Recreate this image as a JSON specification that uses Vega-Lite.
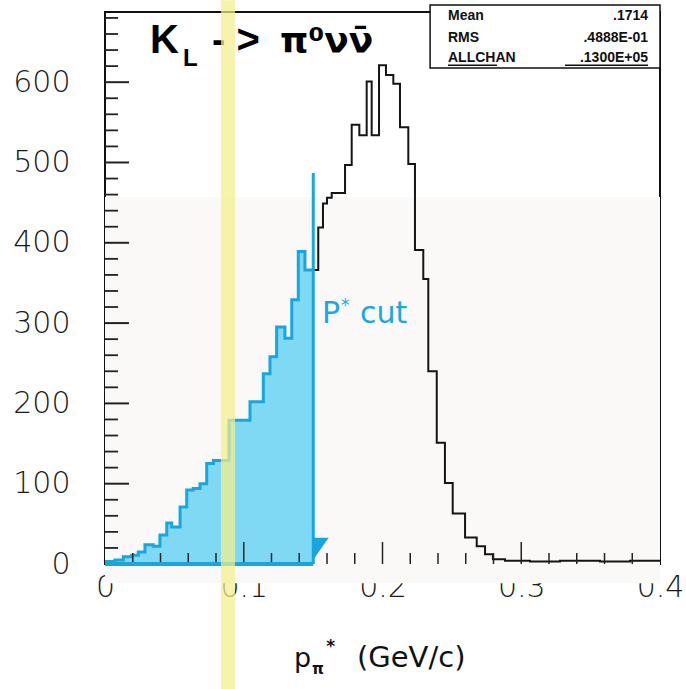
{
  "$schema": "https://vega.github.io/schema/vega-lite/v6.json",
  "width": 555,
  "height": 552,
  "autosize": {"type": "none"},
  "padding": {"left": 105, "top": 12, "right": 26, "bottom": 125},
  "background": "white",
  "config": {
    "view": {"stroke": "#111111", "strokeWidth": 2},
    "axis": {"grid": false, "ticks": false, "domain": false, "tickSize": 0}
  },
  "datasets": {
    "hist": [
      {"x": 0, "n": 3}, {"x": 0.0072, "n": 5}, {"x": 0.0132, "n": 9}, {"x": 0.0192, "n": 11},
      {"x": 0.024, "n": 15}, {"x": 0.0288, "n": 24}, {"x": 0.0348, "n": 22}, {"x": 0.0396, "n": 36},
      {"x": 0.0445, "n": 51}, {"x": 0.0481, "n": 46}, {"x": 0.0541, "n": 71}, {"x": 0.0589, "n": 92},
      {"x": 0.0636, "n": 94}, {"x": 0.0685, "n": 100}, {"x": 0.0733, "n": 125}, {"x": 0.0781, "n": 129},
      {"x": 0.0894, "n": 179}, {"x": 0.1045, "n": 202}, {"x": 0.1141, "n": 237}, {"x": 0.1189, "n": 258},
      {"x": 0.1237, "n": 295}, {"x": 0.1297, "n": 281}, {"x": 0.1346, "n": 329}, {"x": 0.1393, "n": 389},
      {"x": 0.1441, "n": 366}, {"x": 0.1501, "n": 366}, {"x": 0.1537, "n": 419}, {"x": 0.1571, "n": 449},
      {"x": 0.16, "n": 456}, {"x": 0.1634, "n": 462}, {"x": 0.173, "n": 497}, {"x": 0.1778, "n": 547},
      {"x": 0.1833, "n": 534}, {"x": 0.1886, "n": 601}, {"x": 0.1922, "n": 534}, {"x": 0.1975, "n": 621},
      {"x": 0.2025, "n": 609}, {"x": 0.2078, "n": 598}, {"x": 0.2126, "n": 544}, {"x": 0.2186, "n": 498},
      {"x": 0.2234, "n": 391}, {"x": 0.2294, "n": 355}, {"x": 0.233, "n": 240}, {"x": 0.2391, "n": 151},
      {"x": 0.245, "n": 101}, {"x": 0.2506, "n": 63}, {"x": 0.2595, "n": 33}, {"x": 0.2679, "n": 22},
      {"x": 0.2739, "n": 12}, {"x": 0.2796, "n": 6}, {"x": 0.2883, "n": 4}, {"x": 0.3063, "n": 3},
      {"x": 0.3279, "n": 4}, {"x": 0.3568, "n": 3}, {"x": 0.3784, "n": 4}, {"x": 0.4, "n": 4}
    ],
    "one": [{}]
  },
  "layer": [
    {
      "data": {"name": "one"},
      "mark": {"type": "rect", "fill": "#faf9f8"},
      "encoding": {
        "x": {"datum": 0, "type": "quantitative",
          "scale": {"domain": [0, 0.4], "nice": false, "zero": false},
          "axis": {"values": [0, 0.1, 0.2, 0.3, 0.4], "format": "~g", "title": null,
            "labelFont": "DejaVu Sans", "labelFontWeight": 300, "labelFontSize": 30, "labelColor": "#1a1a1a",
            "labelPadding": 8, "labelOverlap": false, "labelFlush": false}},
        "x2": {"datum": 0.4},
        "y": {"datum": -24, "type": "quantitative",
          "scale": {"domain": [0, 687.4], "nice": false, "zero": false},
          "axis": {"values": [0, 100, 200, 300, 400, 500, 600], "format": "d", "title": null,
            "labelFont": "DejaVu Sans", "labelFontWeight": 300, "labelFontSize": 30, "labelColor": "#1a1a1a",
            "labelPadding": 35, "labelOverlap": false, "labelFlush": false}},
        "y2": {"datum": 457}
      }
    },
    {
      "data": {"name": "hist"},
      "transform": [{"filter": "datum.x <= 0.1502"}],
      "mark": {"type": "area", "interpolate": "step-after", "fill": "#80d9f4"},
      "encoding": {
        "x": {"field": "x", "type": "quantitative"},
        "y": {"field": "n", "type": "quantitative"}
      }
    },
    {
      "data": {"name": "hist"},
      "transform": [{"filter": "datum.x <= 0.1502"}],
      "mark": {"type": "line", "interpolate": "step-after", "stroke": "#17a6de", "strokeWidth": 3},
      "encoding": {
        "x": {"field": "x", "type": "quantitative"},
        "y": {"field": "n", "type": "quantitative"}
      }
    },
    {
      "data": {"name": "hist"},
      "transform": [{"filter": "datum.x >= 0.15"}],
      "mark": {"type": "line", "interpolate": "step-after", "stroke": "#151515", "strokeWidth": 2},
      "encoding": {
        "x": {"field": "x", "type": "quantitative"},
        "y": {"field": "n", "type": "quantitative"}
      }
    },
    {
      "data": {"values": [{"v": 0}, {"v": 100}, {"v": 200}, {"v": 300}, {"v": 400}, {"v": 500}, {"v": 600}]},
      "mark": {"type": "rule", "stroke": "#222222", "strokeWidth": 2},
      "encoding": {
        "y": {"field": "v", "type": "quantitative"},
        "x": {"datum": 0, "type": "quantitative"},
        "x2": {"datum": 0.0173}
      }
    },
    {
      "data": {"values": [{"v": 20}, {"v": 40}, {"v": 60}, {"v": 80}, {"v": 120}, {"v": 140}, {"v": 160}, {"v": 180}, {"v": 220}, {"v": 240}, {"v": 260}, {"v": 280}, {"v": 320}, {"v": 340}, {"v": 360}, {"v": 380}, {"v": 420}, {"v": 440}, {"v": 460}, {"v": 480}, {"v": 520}, {"v": 540}, {"v": 560}, {"v": 580}, {"v": 620}, {"v": 640}, {"v": 660}, {"v": 680}]},
      "mark": {"type": "rule", "stroke": "#222222", "strokeWidth": 1.8},
      "encoding": {
        "y": {"field": "v", "type": "quantitative"},
        "x": {"datum": 0, "type": "quantitative"},
        "x2": {"datum": 0.0094}
      }
    },
    {
      "data": {"values": [{"v": 0.1}, {"v": 0.2}, {"v": 0.3}]},
      "mark": {"type": "rule", "stroke": "#222222", "strokeWidth": 1.5},
      "encoding": {
        "x": {"field": "v", "type": "quantitative"},
        "y": {"datum": 0, "type": "quantitative"},
        "y2": {"datum": 27.4}
      }
    },
    {
      "data": {"values": [{"v": 0.02}, {"v": 0.04}, {"v": 0.06}, {"v": 0.08}, {"v": 0.12}, {"v": 0.14}, {"v": 0.16}, {"v": 0.18}, {"v": 0.22}, {"v": 0.24}, {"v": 0.26}, {"v": 0.28}, {"v": 0.32}, {"v": 0.34}, {"v": 0.36}, {"v": 0.38}]},
      "mark": {"type": "rule", "stroke": "#222222", "strokeWidth": 1.5},
      "encoding": {
        "x": {"field": "v", "type": "quantitative"},
        "y": {"datum": 0, "type": "quantitative"},
        "y2": {"datum": 13.7}
      }
    },
    {
      "data": {"name": "one"},
      "mark": {"type": "rule", "stroke": "#17a6de", "strokeWidth": 4},
      "encoding": {
        "x": {"datum": 0, "type": "quantitative"},
        "x2": {"datum": 0.1501},
        "y": {"datum": 0, "type": "quantitative"}
      }
    },
    {
      "data": {"name": "one"},
      "mark": {"type": "rule", "stroke": "#17a6de", "strokeWidth": 3},
      "encoding": {
        "x": {"datum": 0.1501, "type": "quantitative"},
        "y": {"datum": 0, "type": "quantitative"},
        "y2": {"datum": 487}
      }
    },
    {
      "data": {"name": "one"},
      "mark": {"type": "point", "filled": true, "fill": "#17a6de", "opacity": 1, "shape": "M0,-1L1.4,-1L0,1Z", "size": 484},
      "encoding": {
        "x": {"datum": 0.1501, "type": "quantitative"},
        "y": {"datum": 19, "type": "quantitative"}
      }
    },
    {
      "data": {"name": "one"},
      "mark": {"type": "text", "text": "P", "font": "DejaVu Sans", "fontSize": 30, "fill": "#1aa9e0", "align": "left", "baseline": "alphabetic"},
      "encoding": {
        "x": {"datum": 0.1564, "type": "quantitative"},
        "y": {"datum": 300, "type": "quantitative"}
      }
    },
    {
      "data": {"name": "one"},
      "mark": {"type": "text", "text": "*", "font": "DejaVu Sans", "fontSize": 17, "fill": "#1aa9e0", "align": "left", "baseline": "alphabetic"},
      "encoding": {
        "x": {"datum": 0.1700, "type": "quantitative"},
        "y": {"datum": 315, "type": "quantitative"}
      }
    },
    {
      "data": {"name": "one"},
      "mark": {"type": "text", "text": "cut", "font": "DejaVu Sans", "fontSize": 30, "fill": "#1aa9e0", "align": "left", "baseline": "alphabetic"},
      "encoding": {
        "x": {"datum": 0.1838, "type": "quantitative"},
        "y": {"datum": 300, "type": "quantitative"}
      }
    },
    {
      "data": {"name": "one"},
      "mark": {"type": "rect", "fill": "white", "stroke": "#111111", "strokeWidth": 1.5},
      "encoding": {
        "x": {"datum": 0.2343, "type": "quantitative"},
        "x2": {"datum": 0.4},
        "y": {"datum": 617.7, "type": "quantitative"},
        "y2": {"datum": 696}
      }
    },
    {
      "data": {"values": [
        {"k": "Mean", "v": ".1714", "r": 677.5},
        {"k": "RMS", "v": ".4888E-01", "r": 650},
        {"k": "ALLCHAN", "v": ".1300E+05", "r": 625}
      ]},
      "mark": {"type": "text", "font": "Liberation Sans", "fontWeight": "bold", "fontSize": 14, "fill": "#111111", "align": "left", "baseline": "alphabetic"},
      "encoding": {
        "x": {"datum": 0.2472, "type": "quantitative"},
        "y": {"field": "r", "type": "quantitative"},
        "text": {"field": "k"}
      }
    },
    {
      "data": {"values": [
        {"k": "Mean", "v": ".1714", "r": 677.5},
        {"k": "RMS", "v": ".4888E-01", "r": 650},
        {"k": "ALLCHAN", "v": ".1300E+05", "r": 625}
      ]},
      "mark": {"type": "text", "font": "Liberation Sans", "fontWeight": "bold", "fontSize": 14, "fill": "#111111", "align": "right", "baseline": "alphabetic"},
      "encoding": {
        "x": {"datum": 0.3914, "type": "quantitative"},
        "y": {"field": "r", "type": "quantitative"},
        "text": {"field": "v"}
      }
    },
    {
      "data": {"values": [{"a": 0.2472, "b": 0.2825}, {"a": 0.3315, "b": 0.3914}]},
      "mark": {"type": "rule", "stroke": "#111111", "strokeWidth": 1.5},
      "encoding": {
        "x": {"field": "a", "type": "quantitative"},
        "x2": {"field": "b"},
        "y": {"datum": 621, "type": "quantitative"}
      }
    },
    {
      "data": {"name": "one"},
      "mark": {"type": "text", "text": "K", "font": "Liberation Sans", "fontWeight": "bold", "fontSize": 40, "fill": "#000000", "align": "left", "baseline": "alphabetic"},
      "encoding": {
        "x": {"datum": 0.0324, "type": "quantitative"},
        "y": {"datum": 636, "type": "quantitative"}
      }
    },
    {
      "data": {"name": "one"},
      "mark": {"type": "text", "text": "L", "font": "Liberation Sans", "fontWeight": "bold", "fontSize": 24, "fill": "#000000", "align": "left", "baseline": "alphabetic"},
      "encoding": {
        "x": {"datum": 0.0562, "type": "quantitative"},
        "y": {"datum": 620, "type": "quantitative"}
      }
    },
    {
      "data": {"name": "one"},
      "mark": {"type": "text", "text": "- >", "font": "Liberation Sans", "fontWeight": "bold", "fontSize": 40, "fill": "#000000", "align": "left", "baseline": "alphabetic"},
      "encoding": {
        "x": {"datum": 0.0771, "type": "quantitative"},
        "y": {"datum": 636, "type": "quantitative"}
      }
    },
    {
      "data": {"name": "one"},
      "mark": {"type": "text", "text": "π⁰νν̄", "font": "DejaVu Sans", "fontWeight": "bold", "fontSize": 36, "fill": "#000000", "align": "left", "baseline": "alphabetic"},
      "encoding": {
        "x": {"datum": 0.1261, "type": "quantitative"},
        "y": {"datum": 636, "type": "quantitative"}
      }
    },
    {
      "data": {"name": "one"},
      "mark": {"type": "text", "text": "p", "font": "DejaVu Sans", "fontSize": 27, "fill": "#111111", "align": "left", "baseline": "alphabetic"},
      "encoding": {
        "x": {"datum": 0.1362, "type": "quantitative"},
        "y": {"datum": -128.3, "type": "quantitative"}
      }
    },
    {
      "data": {"name": "one"},
      "mark": {"type": "text", "text": "π", "font": "DejaVu Sans", "fontWeight": "bold", "fontSize": 15, "fill": "#111111", "align": "left", "baseline": "alphabetic"},
      "encoding": {
        "x": {"datum": 0.1492, "type": "quantitative"},
        "y": {"datum": -137, "type": "quantitative"}
      }
    },
    {
      "data": {"name": "one"},
      "mark": {"type": "text", "text": "*", "font": "DejaVu Sans", "fontWeight": "bold", "fontSize": 17, "fill": "#111111", "align": "left", "baseline": "alphabetic"},
      "encoding": {
        "x": {"datum": 0.1595, "type": "quantitative"},
        "y": {"datum": -110, "type": "quantitative"}
      }
    },
    {
      "data": {"name": "one"},
      "mark": {"type": "text", "text": "(GeV/c)", "font": "DejaVu Sans", "fontSize": 29, "fill": "#111111", "align": "left", "baseline": "alphabetic"},
      "encoding": {
        "x": {"datum": 0.1816, "type": "quantitative"},
        "y": {"datum": -128.3, "type": "quantitative"}
      }
    },
    {
      "data": {"name": "one"},
      "mark": {"type": "rect", "fill": "#f5ee8a", "opacity": 0.72},
      "encoding": {
        "x": {"datum": 0.0836, "type": "quantitative"},
        "x2": {"datum": 0.0937},
        "y": {"datum": -157, "type": "quantitative"},
        "y2": {"datum": 702}
      }
    }
  ]
}
